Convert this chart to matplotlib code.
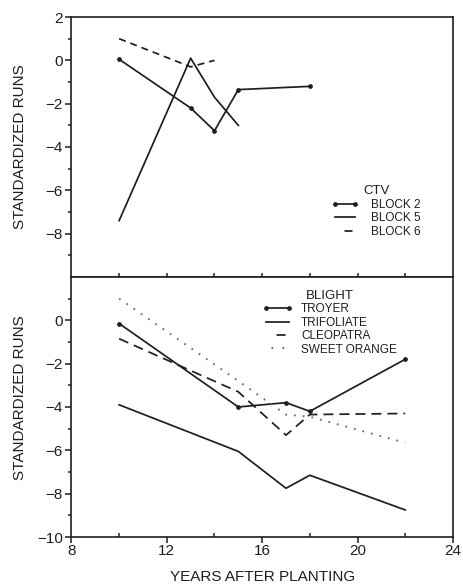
import matplotlib
matplotlib.use('Agg')
import matplotlib.pyplot as plt
from matplotlib.lines import Line2D
from matplotlib.ticker import FixedLocator, NullFormatter

plt.rcParams['font.family'] = ['Liberation Sans', 'DejaVu Sans']

# ---------------- data ----------------
block2_years = [10, 13, 14, 15, 18]
block2_runs = [0.05, -2.2, -3.25, -1.35, -1.2]
block5_years = [10, 13, 14, 15]
block5_runs = [-7.4, 0.1, -1.7, -3.0]
block6_years = [10, 13, 14]
block6_runs = [1.0, -0.3, 0.0]

blight_years = [10, 15, 17, 18, 22]
troyer_runs = [-0.15, -4.0, -3.8, -4.2, -1.8]
trifoliate_runs = [-3.9, -6.05, -7.75, -7.15, -8.75]
cleopatra_runs = [-0.85, -3.3, -5.3, -4.35, -4.3]
sweet_orange_runs = [1.0, -2.8, -4.35, -4.45, -5.65]

ctv_labels = ['BLOCK 2', 'BLOCK 5', 'BLOCK 6']
blight_labels = ['TROYER', 'TRIFOLIATE', 'CLEOPATRA', 'SWEET ORANGE']
x_ticks = [8, 12, 16, 20, 24]

# ---------------- style ----------------
DPI = 100
INK = '#1e1e1e'
DOT = '#6a6a6a'
LW = 1.25
PX = 72.0 / DPI  # points per pixel

def px_dash(*vals):
    # dash pattern given in pixels -> units scaled by linewidth
    return tuple(v * PX / LW for v in vals)

dash6 = (0, px_dash(7, 5))
dash_cleo = (0, px_dash(10, 6))
dots = (0, px_dash(1.6, 6.4))

fig = plt.figure(figsize=(4.64, 5.88), dpi=DPI)
ax1 = fig.add_axes([0.154, 0.529, 0.822, 0.442])
ax2 = fig.add_axes([0.154, 0.0867, 0.822, 0.4423])

# top panel
ax1.plot(block2_years, block2_runs, color=INK, lw=LW, marker='o', ms=2.4)
ax1.plot(block5_years, block5_runs, color=INK, lw=LW)
ax1.plot(block6_years, block6_runs, color=INK, lw=LW, ls=dash6)

# bottom panel
ax2.plot(blight_years, troyer_runs, color=INK, lw=LW, marker='o', ms=2.4)
ax2.plot(blight_years, trifoliate_runs, color=INK, lw=LW)
ax2.plot(blight_years, cleopatra_runs, color=INK, lw=LW, ls=dash_cleo)
ax2.plot(blight_years, sweet_orange_runs, color=DOT, lw=LW * 1.1, ls=dots)

for ax in (ax1, ax2):
    ax.set_xlim(8, 24)
    ax.set_ylim(-10, 2)
    for s in ax.spines.values():
        s.set_linewidth(1.2)
        s.set_color(INK)
    ax.yaxis.set_minor_locator(FixedLocator([-9, -7, -5, -3, -1, 1]))
    ax.tick_params(axis='y', which='major', direction='out', length=4,
                   width=1.1, color=INK, labelsize=11, labelcolor=INK, pad=2)
    ax.tick_params(axis='y', which='minor', direction='out', length=2.5,
                   width=1.1, color=INK)

ax1.yaxis.set_major_locator(FixedLocator([-8, -6, -4, -2, 0, 2]))
ax2.yaxis.set_major_locator(FixedLocator([-10, -8, -6, -4, -2, 0]))

ax1.xaxis.set_major_locator(FixedLocator([10, 12, 14, 16, 18, 20, 22]))
ax1.xaxis.set_major_formatter(NullFormatter())
ax1.tick_params(axis='x', which='major', direction='in', length=3,
                width=1.1, color=INK)

ax2.xaxis.set_major_locator(FixedLocator(x_ticks))
ax2.xaxis.set_minor_locator(FixedLocator([10, 14, 18, 22]))
ax2.tick_params(axis='x', which='major', direction='out', length=4,
                width=1.1, color=INK, labelsize=11, labelcolor=INK, pad=1)
ax2.tick_params(axis='x', which='minor', direction='in', length=3,
                width=1.1, color=INK)

ax1.set_ylabel('STANDARDIZED RUNS', fontsize=11, color=INK)
ax2.set_ylabel('STANDARDIZED RUNS', fontsize=11, color=INK)
ax1.yaxis.set_label_coords(-0.117, 0.5)
ax2.yaxis.set_label_coords(-0.117, 0.537)
ax2.set_xlabel('YEARS AFTER PLANTING', fontsize=11, color=INK)
ax2.xaxis.set_label_coords(0.5, -0.128)

# ---------------- legends ----------------
def centered_dash(handle_px, dash_px):
    gap = (handle_px - dash_px) / 2.0
    big = handle_px * 2
    return ((dash_px + big - gap) * PX / LW, (dash_px * PX / LW, big * PX / LW))

def two_dots(handle_px, first_px, spacing_px, dot_px=1.6):
    big = handle_px * 2
    pattern = (dot_px * PX / LW, (spacing_px - dot_px) * PX / LW,
               dot_px * PX / LW, big * PX / LW)
    total = sum(pattern)
    return ((total - first_px * PX / LW) % total, pattern)

fs_leg = 8.5
em = fs_leg / PX  # font size in pixels

ctv_handles = [
    Line2D([], [], color=INK, lw=LW, marker='o', ms=2.4),
    Line2D([], [], color=INK, lw=LW),
    Line2D([], [], color=INK, lw=LW, ls=centered_dash(27, 8)),
]
leg1 = ax1.legend(ctv_handles, ctv_labels, title='CTV', loc='upper left',
                  bbox_to_anchor=(0.683, 0.352), frameon=False, fontsize=fs_leg,
                  title_fontsize=9.5, numpoints=2, handlelength=27 / em,
                  handletextpad=1.0, labelspacing=0.12, borderpad=0,
                  borderaxespad=0)
for t in leg1.get_texts():
    t.set_color(INK)
leg1.get_title().set_color(INK)

blight_handles = [
    Line2D([], [], color=INK, lw=LW, marker='o', ms=2.4),
    Line2D([], [], color=INK, lw=LW),
    Line2D([], [], color=INK, lw=LW, ls=centered_dash(30, 9)),
    Line2D([], [], color=DOT, lw=LW * 1.1, ls=two_dots(30, 5, 10)),
]
leg2 = ax2.legend(blight_handles, blight_labels, title='BLIGHT', loc='upper left',
                  bbox_to_anchor=(0.5, 0.950), frameon=False, fontsize=fs_leg,
                  title_fontsize=9.5, numpoints=2, handlelength=30 / em,
                  handletextpad=0.75, labelspacing=0.12, borderpad=0,
                  borderaxespad=0)
for t in leg2.get_texts():
    t.set_color(INK)
leg2.get_title().set_color(INK)

fig.savefig('out.png', dpi=DPI)
